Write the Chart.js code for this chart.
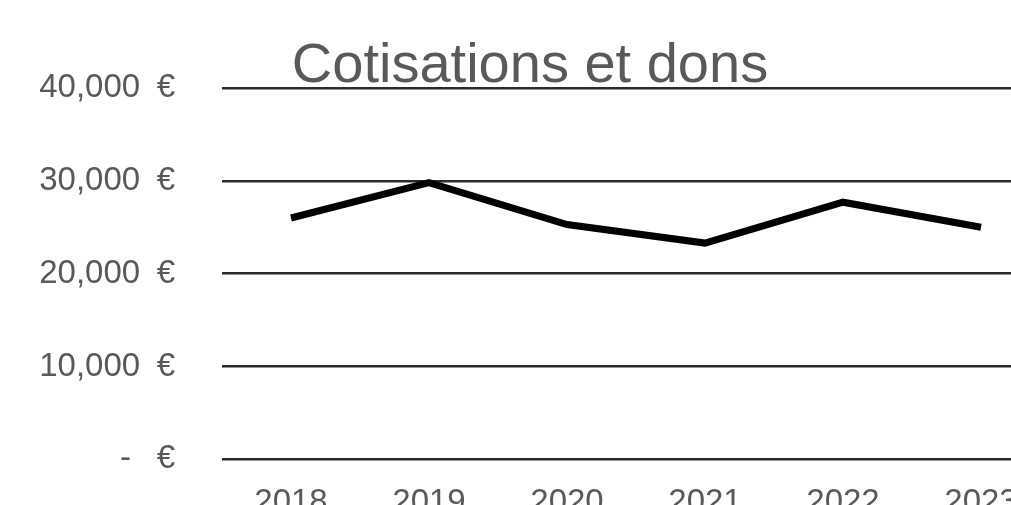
<!DOCTYPE html>
<html>
<head>
<meta charset="utf-8">
<script src="https://cdn.jsdelivr.net/npm/chart.js@4/dist/chart.umd.min.js"></script>
<style>
  html, body { margin: 0; padding: 0; background: #fff; overflow: hidden; }
  #wrap { position: relative; width: 1050px; height: 547px; }
</style>
</head>
<body>
<div id="wrap"><canvas id="chartCotisations"></canvas></div>
<script>
const years = ['2018', '2019', '2020', '2021', '2022', '2023'];
const cotisations = [26000, 29800, 25300, 23300, 27700, 25000];
const yTicks = [0, 10000, 20000, 30000, 40000];
const chartTitle = 'Cotisations et dons';

const grey = '#595959';
const fontFamily = '"Liberation Sans", Arial, sans-serif';

// titre dessiné par-dessus la zone du graphique, comme dans l'original
const titleOverlay = {
    id: 'titleOverlay',
    afterDraw(chart) {
        const ctx = chart.ctx;
        ctx.save();
        ctx.font = `56px ${fontFamily}`;
        ctx.fillStyle = grey;
        ctx.textAlign = 'center';
        ctx.textBaseline = 'alphabetic';
        ctx.fillText(chartTitle, 530, 82);
        ctx.restore();
    }
};

// format comptable : "-   €" pour zéro
const formatEuro = (value) => {
    if (value === 0) {
        return '-\u2002 €';
    }
    return `${value.toLocaleString('en-US')}\u2002€`;
};

const config = {
    type: 'line',
    data: {
        labels: years,
        datasets: [{
            label: chartTitle,
            data: cotisations,
            borderColor: '#000',
            borderWidth: 7,
            pointRadius: 0,
            tension: 0,
            fill: false,
        }]
    },
    options: {
        responsive: true,
        maintainAspectRatio: false,
        animation: false,
        layout: {
            padding: { top: 88, left: 0, right: 0, bottom: 0 }
        },
        plugins: {
            legend: { display: false },
            title: { display: false },
            tooltip: { enabled: false },
        },
        scales: {
            x: {
                offset: true,
                grid: { display: false, drawTicks: false },
                border: { display: false },
                ticks: {
                    color: grey,
                    font: { family: fontFamily, size: 33 },
                    padding: 24,
                    maxRotation: 0,
                    autoSkip: false,
                }
            },
            y: {
                min: 0,
                max: 40000,
                afterBuildTicks: (axis) => {
                    axis.ticks = yTicks.map(v => ({ value: v }));
                },
                afterFit: (axis) => {
                    axis.width = 222;
                },
                grid: { color: '#2b2b2b', lineWidth: 2.5, drawTicks: false },
                border: { display: false },
                ticks: {
                    color: grey,
                    font: { family: fontFamily, size: 33 },
                    padding: 47,
                    callback: formatEuro,
                }
            }
        }
    },
    plugins: [titleOverlay]
};

new Chart(document.getElementById('chartCotisations'), config);
</script>
</body>
</html>
